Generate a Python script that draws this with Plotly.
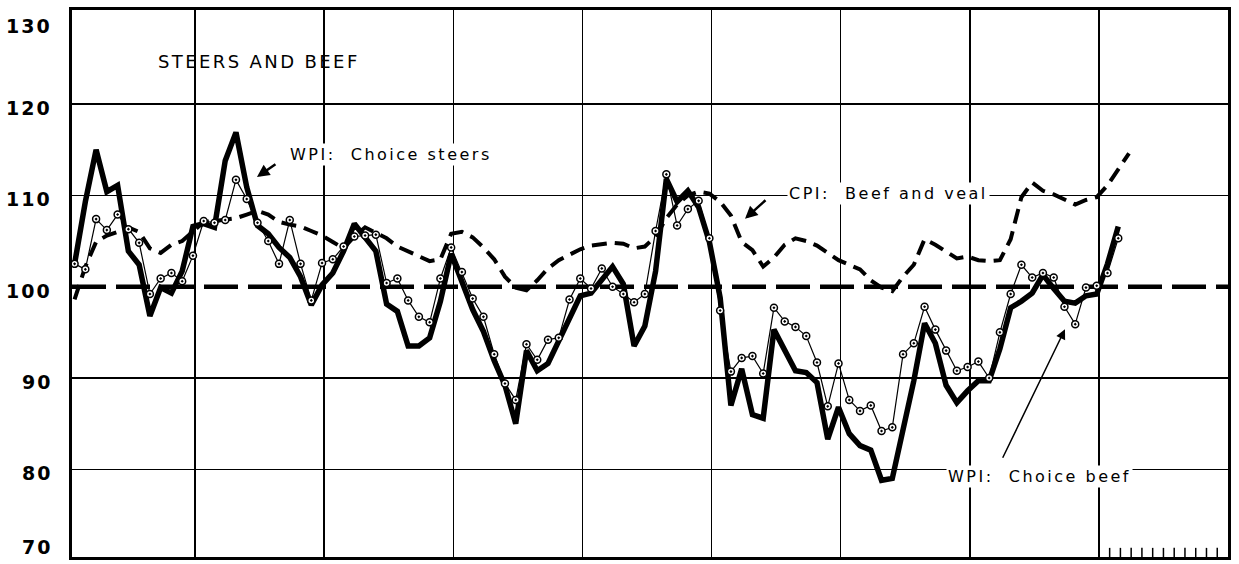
import plotly.graph_objects as go

# ---------------- data (monthly index values) ----------------
MONTH_POS = 0.8          # where a month's point sits inside its month slot

# WPI: Choice steers (thick line)
steers = [
    102.5, 109.3, 115.0, 110.4, 111.1, 103.9, 102.4, 96.8, 99.9, 99.3, 101.7, 106.6,
    106.9, 106.5, 113.8, 116.9, 110.9, 106.7, 105.8, 104.3, 103.2, 101.1, 98.0, 100.2,
    101.5, 103.9, 106.9, 105.3, 103.9, 98.1, 97.3, 93.5, 93.5, 94.4, 98.4, 103.6,
    100.6, 97.5, 95.1, 91.9, 89.2, 85.0, 93.0, 90.8, 91.6, 94.1, 96.8, 99.0,
    99.3, 100.8, 102.2, 100.3, 93.5, 95.7, 101.7, 111.8, 109.3, 110.5, 108.7, 104.9,
    98.8, 87.0, 91.0, 86.0, 85.6, 95.3, 93.0, 90.8, 90.6, 89.5, 83.3, 86.8,
    83.9, 82.6, 82.1, 78.8, 79.0, 84.3, 89.7, 96.0, 93.8, 89.2, 87.3, 88.6,
    89.7, 89.7, 93.2, 97.7, 98.4, 99.3, 101.3, 99.8, 98.4, 98.2, 99.0, 99.2,
    102.5, 106.6,
]

# WPI: Choice beef (thin line with circles)
beef = [
    102.5, 101.9, 107.4, 106.2, 107.9, 106.3, 104.8, 99.2, 100.9, 101.5, 100.6, 103.4,
    107.2, 107.0, 107.3, 111.7, 109.6, 107.0, 105.0, 102.5, 107.3, 102.5, 98.5, 102.6,
    103.0, 104.4, 105.5, 105.6, 105.7, 100.4, 100.9, 98.5, 96.7, 96.1, 100.9, 104.3,
    101.6, 98.7, 96.7, 92.6, 89.4, 87.6, 93.7, 92.0, 94.2, 94.4, 98.6, 100.9,
    99.8, 102.0, 100.0, 99.2, 98.3, 99.2, 106.1, 112.3, 106.7, 108.5, 109.4, 105.3,
    97.4, 90.7, 92.2, 92.4, 90.5, 97.7, 96.2, 95.6, 94.6, 91.7, 86.9, 91.6,
    87.6, 86.4, 87.0, 84.2, 84.6, 92.6, 93.8, 97.8, 95.3, 93.0, 90.8, 91.2,
    91.8, 90.0, 95.0, 99.2, 102.4, 101.0, 101.5, 101.0, 97.8, 95.9, 99.9, 100.1,
    101.5, 105.3,
]

# CPI: Beef and veal (dashed line)
cpi = [
    98.6, 102.2, 104.9, 105.6, 106.0, 106.5, 106.0, 104.2, 103.7, 104.6, 105.0, 106.0,
    107.1, 107.2, 107.3, 107.5, 107.9, 108.3, 107.9, 107.1, 106.8, 106.6, 106.1, 105.6,
    104.9, 104.2, 105.5, 106.5, 105.9, 105.3, 104.4, 103.9, 103.3, 102.8, 103.0, 105.8,
    106.0, 105.4, 104.3, 103.0, 101.1, 99.9, 99.6, 100.7, 102.0, 102.9, 103.5, 104.1,
    104.5, 104.7, 104.8, 104.7, 104.2, 104.4, 105.5, 107.5, 109.0, 110.0, 110.4, 110.2,
    109.3, 107.8, 104.9, 104.0, 102.2, 103.2, 104.6, 105.3, 105.0, 104.5, 103.7, 102.9,
    102.4, 101.9, 100.7, 99.9, 99.5, 101.1, 102.4, 105.2, 104.6, 103.9, 103.1, 103.3,
    102.9, 102.8, 102.9, 105.2, 109.8, 111.4, 110.5, 110.1, 109.5, 109.0, 109.5, 109.8,
    111.1, 112.9, 114.6,
]

BASE = 100
y_labels = [70, 80, 90, 100, 110, 120, 130]
grid_values = [80, 90, 110, 120]
year_lines = [12, 24, 36, 48, 60, 72, 84, 96]
future_ticks = list(range(97, 108))

X_RANGE = [0.56, 108.0]
Y_RANGE = [70.4, 130.3]


def month_x(series):
    return [i + MONTH_POS for i in range(len(series))]


TXT_FONT = dict(family="DejaVu Sans", size=16, color="black")


def spaced(s, px=2.5):
    return f'<span style="letter-spacing:{px}px">{s}</span>'


fig = go.Figure()

# base line at 100
fig.add_shape(type="line", xref="paper", x0=0, x1=1, yref="y", y0=BASE, y1=BASE,
              line=dict(color="black", width=4.5, dash="34px,10px"), layer="below")

# CPI dashed
fig.add_trace(go.Scatter(
    x=month_x(cpi), y=cpi, mode="lines",
    line=dict(color="black", width=4, dash="15px,8px"),
    hoverinfo="skip",
))

# Steers thick
fig.add_trace(go.Scatter(
    x=month_x(steers), y=steers, mode="lines",
    line=dict(color="black", width=5.5),
    hoverinfo="skip",
))

# Beef thin with circles
fig.add_trace(go.Scatter(
    x=month_x(beef), y=beef, mode="lines+markers",
    line=dict(color="black", width=1.2),
    marker=dict(symbol="circle-dot", size=7, color="white",
                line=dict(color="black", width=1.5)),
    hoverinfo="skip",
))

# small ticks in the last (future) year
tx, ty = [], []
for m in future_ticks:
    tx += [m, m, None]
    ty += [Y_RANGE[0], Y_RANGE[0] + 1.0, None]
fig.add_trace(go.Scatter(x=tx, y=ty, mode="lines",
                         line=dict(color="black", width=1.5), hoverinfo="skip"))

annotations = []
# y labels
for v in y_labels:
    if v == max(y_labels):
        anc, sh, yv = "top", 0, v
    elif v == min(y_labels):
        anc, sh, yv = "bottom", -3, Y_RANGE[0]
    else:
        anc, sh, yv = "middle", -4, v
    annotations.append(dict(
        x=0, xref="paper", y=yv, yref="y", xanchor="right", yanchor=anc,
        xshift=-18, yshift=sh, showarrow=False,
        text=spaced(str(v), 2),
        font=dict(family="DejaVu Sans", size=19, color="black", weight="bold"),
    ))

# text labels
annotations += [
    dict(x=17.94, y=124.64, text=spaced("STEERS AND BEEF", 2.4), showarrow=False,
         font=dict(family="DejaVu Sans", size=18, color="black")),
    dict(x=30.25, y=114.5, text=spaced("WPI:\u00a0\u00a0Choice steers"), showarrow=False,
         font=TXT_FONT, bgcolor="white"),
    dict(x=76.49, y=110.26, text=spaced("CPI:\u00a0\u00a0Beef and veal"), showarrow=False,
         font=TXT_FONT, bgcolor="white"),
    dict(x=90.52, y=79.22, text=spaced("WPI:\u00a0\u00a0Choice beef"), showarrow=False,
         font=TXT_FONT, bgcolor="white"),
    # arrows
    dict(x=17.75, y=112.0, ax=20, ay=-14, text="", showarrow=True,
         arrowhead=2, arrowsize=1.0, arrowwidth=2.5, arrowcolor="black"),
    dict(x=63.11, y=107.43, ax=22, ay=-20, text="", showarrow=True,
         arrowhead=2, arrowsize=1.0, arrowwidth=2.5, arrowcolor="black"),
    dict(x=92.85, y=95.34, ax=-63, ay=130, text="", showarrow=True,
         arrowhead=2, arrowsize=1.3, arrowwidth=1.5, arrowcolor="black"),
]

fig.update_layout(
    width=1239, height=564,
    margin=dict(l=72, r=11, t=7, b=7),
    paper_bgcolor="white", plot_bgcolor="white",
    showlegend=False,
    hovermode=False,
    annotations=annotations,
    xaxis=dict(range=X_RANGE, tickvals=year_lines, showticklabels=False,
               showgrid=True, gridcolor="black", gridwidth=1.5, zeroline=False,
               showline=True, mirror=True, linewidth=3, linecolor="black", ticks=""),
    yaxis=dict(range=Y_RANGE, tickvals=grid_values, showticklabels=False,
               showgrid=True, gridcolor="black", gridwidth=1.5, zeroline=False,
               showline=True, mirror=True, linewidth=3, linecolor="black", ticks=""),
)

fig.write_html("out.html",
               config={"displayModeBar": False, "staticPlot": True},
               post_script="document.body.style.margin='0';document.body.style.overflow='hidden';")
